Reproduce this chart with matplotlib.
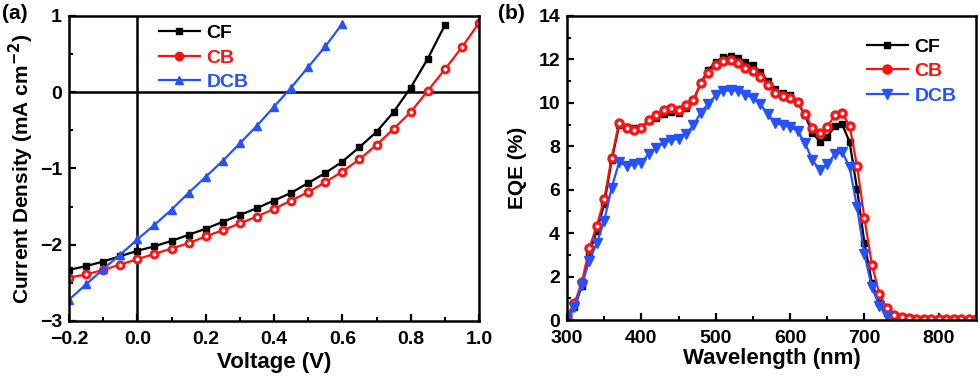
import matplotlib
matplotlib.use("Agg")
import matplotlib.pyplot as plt
from matplotlib.ticker import MultipleLocator
import numpy as np

# J-V curves (panel a)
volt = [-0.2, -0.15, -0.1, -0.05, 0.0, 0.05, 0.1, 0.15, 0.2, 0.25, 0.3, 0.35,
        0.4, 0.45, 0.5, 0.55, 0.6, 0.65, 0.7, 0.75, 0.8, 0.85, 0.9, 0.95, 1.0]
jv_cf = [-2.33, -2.28, -2.22, -2.15, -2.08, -2.02, -1.95, -1.87, -1.79, -1.70,
         -1.61, -1.52, -1.42, -1.32, -1.19, -1.06, -0.91, -0.72, -0.52, -0.26,
         0.06, 0.44, 0.88]
jv_cb = [-2.43, -2.39, -2.33, -2.26, -2.19, -2.12, -2.05, -1.98, -1.89, -1.81,
         -1.72, -1.63, -1.53, -1.42, -1.31, -1.18, -1.04, -0.88, -0.69, -0.48,
         -0.26, 0.02, 0.30, 0.59, 0.91]
jv_dcb = [-2.72, -2.52, -2.32, -2.13, -1.93, -1.74, -1.54, -1.32, -1.11, -0.90,
          -0.67, -0.44, -0.19, 0.06, 0.33, 0.60, 0.90]

# EQE spectra (panel b), 10 nm steps from 300 nm
eqe_cf = [0.15, 0.58, 1.58, 3.10, 4.10, 5.35, 7.35, 8.97, 8.90, 8.82, 8.90,
          9.17, 9.32, 9.48, 9.57, 9.54, 9.75, 10.12, 10.92, 11.50, 11.90,
          12.09, 12.15, 12.05, 11.90, 11.74, 11.43, 11.00, 10.62, 10.46,
          10.34, 10.03, 9.43, 8.62, 8.22, 8.43, 8.92, 9.02, 8.20, 6.05, 3.54,
          1.72, 0.77, 0.31, 0.10]
eqe_cb = [0.20, 0.77, 1.74, 3.32, 4.34, 5.57, 7.48, 9.08, 8.86, 8.77, 8.86,
          9.20, 9.42, 9.66, 9.78, 9.69, 9.91, 10.15, 10.92, 11.38, 11.74,
          11.94, 11.97, 11.82, 11.62, 11.48, 11.20, 10.82, 10.46, 10.32,
          10.23, 10.03, 9.48, 8.86, 8.62, 8.89, 9.43, 9.54, 8.95, 7.09, 4.68,
          2.55, 1.20, 0.55, 0.25, 0.12, 0.08, 0.06, 0.05, 0.04, 0.04, 0.03,
          0.03, 0.03, 0.03, 0.03]
eqe_dcb = [0.12, 0.62, 1.63, 2.74, 3.54, 4.58, 6.09, 7.26, 7.11, 7.17, 7.23,
           7.66, 7.94, 8.15, 8.28, 8.35, 8.58, 8.97, 9.55, 9.97, 10.34, 10.55,
           10.58, 10.55, 10.38, 10.23, 9.94, 9.48, 9.08, 8.98, 8.89, 8.71,
           8.15, 7.35, 6.92, 7.17, 7.63, 7.74, 7.05, 5.20, 3.02, 1.51, 0.66,
           0.20]

BLACK = "#000000"
RED = "#ff1111"
BLUE = "#2452ff"

plt.rcParams.update({
    "font.family": "Liberation Sans", "font.weight": "bold",
    "axes.labelweight": "bold", "axes.linewidth": 1.8,
    "xtick.direction": "in", "ytick.direction": "in",
    "xtick.major.width": 1.6, "ytick.major.width": 1.6,
    "xtick.minor.width": 1.4, "ytick.minor.width": 1.4,
    "xtick.major.size": 5, "ytick.major.size": 5,
    "xtick.minor.size": 3, "ytick.minor.size": 3,
    "xtick.major.pad": 7, "ytick.major.pad": 5,
    "xtick.labelsize": 14, "ytick.labelsize": 14,
})


def style_legend(leg, colors):
    for txt, c in zip(leg.get_texts(), colors):
        txt.set_color(c)


def draw_series(ax, x, y, color, marker, ms, label):
    ax.plot(x, y, color=color, lw=1.6, marker=marker, ms=ms,
            mec=color, mfc=color, label=label)
    if marker == "o":
        # white highlight on the red spheres
        ax.plot(x, y, ls="none", marker="o", ms=1.8, mfc="white", mec="white")


fig = plt.figure(figsize=(9.8, 3.78), dpi=100)
ax1 = fig.add_axes([0.0704, 0.1508, 0.4184, 0.8069])
ax2 = fig.add_axes([0.5786, 0.1534, 0.4173, 0.8043])

# panel (a)
draw_series(ax1, volt[:len(jv_cf)], jv_cf, BLACK, "s", 5, "CF")
draw_series(ax1, volt[:len(jv_cb)], jv_cb, RED, "o", 6, "CB")
draw_series(ax1, volt[:len(jv_dcb)], jv_dcb, BLUE, "^", 6, "DCB")
ax1.axhline(0, color="black", lw=1.8, zorder=1)
ax1.axvline(0, color="black", lw=1.8, zorder=1)
ax1.set_xlim(-0.2, 1.0)
ax1.set_ylim(-3, 1)
ax1.xaxis.set_major_locator(MultipleLocator(0.2))
ax1.xaxis.set_minor_locator(MultipleLocator(0.1))
ax1.yaxis.set_major_locator(MultipleLocator(1))
ax1.yaxis.set_minor_locator(MultipleLocator(0.5))
ax1.xaxis.set_major_formatter(lambda v, p: f"{v:.1f}".replace("-", "\u2212"))
ax1.set_xlabel("Voltage (V)", fontsize=16, labelpad=3)
ax1.set_ylabel("Current Density (mA cm$^{\\mathbf{-2}}$)", fontsize=15, labelpad=3)
leg1 = ax1.legend(loc="upper left", bbox_to_anchor=(0.2, 0.997), frameon=False,
                  fontsize=14, handlelength=2.1, handletextpad=0.35,
                  labelspacing=0.35, borderaxespad=0)
style_legend(leg1, [BLACK, RED, BLUE])

# panel (b)
wl = np.arange(300, 851, 10)
draw_series(ax2, wl[:len(eqe_cf)], eqe_cf, BLACK, "s", 5, "CF")
draw_series(ax2, wl[:len(eqe_cb)], eqe_cb, RED, "o", 6.5, "CB")
draw_series(ax2, wl[:len(eqe_dcb)], eqe_dcb, BLUE, "v", 6.5, "DCB")
ax2.set_xlim(300, 850)
ax2.set_ylim(0, 14)
ax2.xaxis.set_major_locator(MultipleLocator(100))
ax2.xaxis.set_minor_locator(MultipleLocator(50))
ax2.yaxis.set_major_locator(MultipleLocator(2))
ax2.yaxis.set_minor_locator(MultipleLocator(1))
ax2.set_xlabel("Wavelength (nm)", fontsize=16, labelpad=1)
ax2.set_ylabel("EQE (%)", fontsize=15, labelpad=8)
leg2 = ax2.legend(loc="upper left", bbox_to_anchor=(0.714, 0.953), frameon=False,
                  fontsize=14, handlelength=2.1, handletextpad=0.35,
                  labelspacing=0.35, borderaxespad=0)
style_legend(leg2, [BLACK, RED, BLUE])

for ax in (ax1, ax2):
    ax.tick_params(which="both", top=False, right=False)
    for lab in ax.get_xticklabels() + ax.get_yticklabels():
        lab.set_fontweight("bold")

fig.text(0.002, 0.99, "(a)", fontsize=15, fontweight="bold", va="top")
fig.text(0.508, 0.99, "(b)", fontsize=15, fontweight="bold", va="top")

fig.savefig("out.png", dpi=100)
